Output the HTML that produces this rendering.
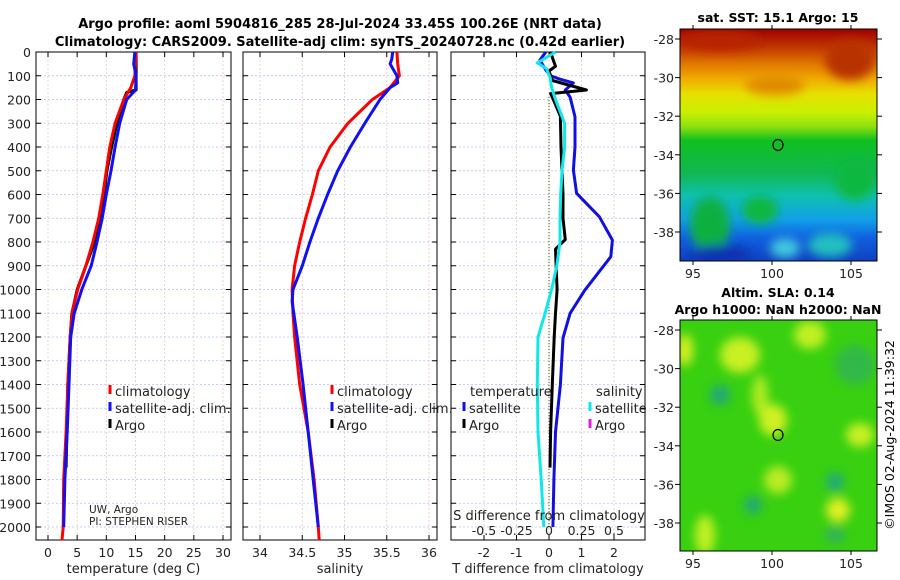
<!DOCTYPE html>
<html><head><meta charset="utf-8"><style>
html,body{margin:0;padding:0;background:#fff;}
svg{display:block;font-family:"DejaVu Sans","Liberation Sans",sans-serif;}
</style></head><body>
<svg id="fig" width="900" height="580" viewBox="0 0 900 580" xmlns="http://www.w3.org/2000/svg">
<defs>
<linearGradient id="sstg" x1="0" y1="0" x2="0" y2="1">
<stop offset="0" stop-color="#a00000"/><stop offset="0.08" stop-color="#c03800"/>
<stop offset="0.15" stop-color="#e07800"/><stop offset="0.21" stop-color="#f0a800"/>
<stop offset="0.28" stop-color="#e8e000"/><stop offset="0.36" stop-color="#c8f000"/>
<stop offset="0.42" stop-color="#90e010"/><stop offset="0.48" stop-color="#10c020"/>
<stop offset="0.62" stop-color="#10b850"/><stop offset="0.72" stop-color="#10c0b0"/>
<stop offset="0.82" stop-color="#10a0e8"/><stop offset="0.9" stop-color="#1060e0"/>
<stop offset="1" stop-color="#1040c0"/></linearGradient>
<filter id="bl" x="-50%" y="-50%" width="200%" height="200%"><feGaussianBlur stdDeviation="5"/></filter>
<clipPath id="c1"><rect x="680" y="29" width="197" height="232"/></clipPath>
<clipPath id="c2"><rect x="680" y="320" width="197" height="231"/></clipPath>
</defs>
<g id="titles">
<text x="340" y="28" text-anchor="middle" font-size="13" font-weight="bold">Argo profile: aoml 5904816_285 28-Jul-2024 33.45S 100.26E (NRT data)</text>
<text x="340" y="46" text-anchor="middle" font-size="13" font-weight="bold">Climatology: CARS2009. Satellite-adj clim: synTS_20240728.nc (0.42d earlier)</text>
</g>
<g id="maps">
<g clip-path="url(#c1)">
<rect x="680" y="29" width="197" height="232" fill="url(#sstg)"/>
<g filter="url(#bl)">
<ellipse cx="720" cy="40" rx="40" ry="10" fill="#b82000"/>
<ellipse cx="850" cy="60" rx="25" ry="20" fill="#b83000"/>
<ellipse cx="775" cy="85" rx="30" ry="10" fill="#e08a00"/>
<ellipse cx="710" cy="225" rx="20" ry="28" fill="#10b040"/>
<ellipse cx="760" cy="210" rx="18" ry="14" fill="#10b840"/>
<ellipse cx="855" cy="180" rx="20" ry="20" fill="#10b840"/>
<ellipse cx="720" cy="255" rx="30" ry="10" fill="#0a30b0"/>
<ellipse cx="830" cy="245" rx="22" ry="12" fill="#20c0c0"/>
<ellipse cx="785" cy="248" rx="15" ry="10" fill="#40c8e0"/>
</g></g>
<rect x="680" y="29" width="197" height="232" fill="none" stroke="#000" stroke-width="1"/>
<ellipse cx="778" cy="145" rx="5" ry="5.5" fill="none" stroke="#000" stroke-width="1.2"/>
<g clip-path="url(#c2)">
<rect x="680" y="320" width="197" height="231" fill="#38d010"/>
<g filter="url(#bl)">
<ellipse cx="740" cy="355" rx="20" ry="18" fill="#c8f020"/>
<ellipse cx="760" cy="395" rx="8" ry="20" fill="#b0ec20"/>
<ellipse cx="810" cy="335" rx="16" ry="14" fill="#c0f020"/>
<ellipse cx="685" cy="350" rx="8" ry="16" fill="#d8f020"/>
<ellipse cx="773" cy="420" rx="14" ry="16" fill="#d0f020"/>
<ellipse cx="778" cy="480" rx="14" ry="14" fill="#b8ec20"/>
<ellipse cx="860" cy="435" rx="14" ry="12" fill="#c8f020"/>
<ellipse cx="838" cy="510" rx="12" ry="12" fill="#e0f020"/>
<ellipse cx="705" cy="535" rx="10" ry="20" fill="#c0f020"/>
<ellipse cx="720" cy="395" rx="10" ry="10" fill="#20a878"/>
<ellipse cx="753" cy="505" rx="9" ry="9" fill="#20a878"/>
<ellipse cx="835" cy="482" rx="9" ry="9" fill="#20a880"/>
<ellipse cx="835" cy="535" rx="10" ry="8" fill="#30b060"/>
<ellipse cx="855" cy="365" rx="20" ry="20" fill="#30b848"/>
</g></g>
<rect x="680" y="320" width="197" height="231" fill="none" stroke="#000" stroke-width="1"/>
<ellipse cx="778" cy="435" rx="5" ry="5.5" fill="none" stroke="#000" stroke-width="1.2"/>
<text x="778" y="22" text-anchor="middle" font-size="12.5" font-weight="bold">sat. SST: 15.1 Argo: 15</text>
<text x="778" y="297" text-anchor="middle" font-size="12.5" font-weight="bold">Altim. SLA: 0.14</text>
<text x="778" y="314" text-anchor="middle" font-size="12.5" font-weight="bold">Argo h1000: NaN h2000: NaN</text>
<text transform="translate(894,435) rotate(-90)" text-anchor="middle" font-size="12.5">©IMOS 02-Aug-2024 11:39:32</text>
</g>
<g id="plots"></g>
</svg>
<script>
// ---- data ----
const tClimDepth=[0,100,150,200,300,400,500,600,700,800,900,1000,1100,1200,1400,1600,1800,2000,2055];
const tClim=[15.1,14.9,14.2,13,11.5,10.6,10,9.4,8.7,7.7,6.5,5.1,4.1,3.8,3.4,3.1,2.7,2.6,2.4];
const tSatDepth=[0,50,100,160,200,300,400,500,600,700,800,900,1000,1100,1200,1400,1600,1800,2000];
const tSat=[14.9,14.7,15.1,15,13.5,12.3,11.5,10.8,10,9.3,8.4,7.4,5.8,4.5,3.9,3.6,3.3,2.9,2.7];
const tArgoDepth=[0,100,160,170,200,300,400,500,600,700,800,900,1000,1100,1200,1400,1750];
const tArgo=[15.1,15.1,15.1,13.5,13,11.8,10.9,10.1,9.6,9.1,8,6.5,5,4.1,3.8,3.4,3.1];
const sClimDepth=[0,50,100,150,200,300,400,500,600,700,800,900,1000,1100,1200,1400,1600,1800,2000,2055];
const sClim=[35.62,35.63,35.65,35.54,35.33,35.04,34.83,34.69,34.62,34.54,34.47,34.41,34.38,34.39,34.41,34.47,34.57,34.64,34.69,34.7];
const sSatDepth=[0,30,50,100,130,150,200,300,400,500,600,700,800,900,1000,1050,1100,1200,1400,1600,1800,2000];
const sSat=[35.57,35.56,35.54,35.62,35.63,35.54,35.42,35.24,35.07,34.92,34.8,34.69,34.59,34.5,34.39,34.38,34.4,34.44,34.51,34.57,34.63,34.69];
const dtSatDepth=[0,34,76,100,115,130,160,190,273,400,497,595,694,792,862,1003,1100,1204,1400,1600,1800,2000];
const dtSat=[-0.1,-0.28,-0.1,0.05,0.35,0.75,0.5,0.65,0.8,0.8,0.75,0.85,1.55,1.95,1.9,1.1,0.65,0.43,0.35,0.2,0.15,0.12];
const dtArgoDepth=[0,30,60,80,120,160,175,190,270,400,500,600,700,790,830,900,1000,1100,1200,1400,1600,1750];
const dtArgo=[0.05,0.12,0.2,0,0.1,1.15,0.05,0.1,0.35,0.37,0.4,0.43,0.43,0.5,0.2,0.22,0.25,0.2,0.16,0.1,0.05,0.03];
const dsSatDepth=[0,46,70,110,150,200,300,400,500,600,700,800,900,1000,1100,1200,1400,1600,1800,2000];
const dsSat=[0.05,-0.09,-0.02,0.01,0.02,0.05,0.12,0.12,0.1,0.09,0.085,0.085,0.06,0.02,-0.03,-0.085,-0.09,-0.085,-0.06,-0.04];
const depthTicks=[0,100,200,300,400,500,600,700,800,900,1000,1100,1200,1300,1400,1500,1600,1700,1800,1900,2000];
const tTicks=[0,5,10,15,20,25,30];
const sTicks=[34,34.5,35,35.5,36];
const dtTicks=[-2,-1,0,1,2];
const dsTicks=[-0.5,-0.25,0,0.25,0.5];
const latTicks=[-28,-30,-32,-34,-36,-38];
const lonTicks=[95,100,105];
// ---- layout ----
const NS="http://www.w3.org/2000/svg";
const root=document.getElementById('plots');
const Y=d=>52+d*0.2375;
const xT=v=>48+v*5.833;
const xS=v=>260+(v-34)*84.5;
const xDT=v=>549+v*32.5;
const xDS=v=>549+v*130;
const yTop=52,yBot=540;
function el(tag,attrs,parent){const e=document.createElementNS(NS,tag);for(const k in attrs)e.setAttribute(k,attrs[k]);(parent||root).appendChild(e);return e;}
function txt(s,attrs,parent){const e=el('text',attrs,parent);e.textContent=s;return e;}
function panel(name,x0,x1,ticks,fx,labels,title){
  const g=el('g',{});
  
  
  depthTicks.forEach(d=>{const l=el('line',{x1:x0,x2:x1,y1:Y(d),y2:Y(d),stroke:'#b8c0ec','stroke-width':0.8,'stroke-dasharray':'2,2'},g);
    
    
    el('line',{x1:x0,x2:x0+5,y1:Y(d),y2:Y(d),stroke:'#000'},g);el('line',{x1:x1-5,x2:x1,y1:Y(d),y2:Y(d),stroke:'#000'},g);});
  ticks.forEach((t,i)=>{const x=fx(t);const l=el('line',{x1:x,x2:x,y1:yTop,y2:yBot,stroke:'#e8c8c0','stroke-width':0.8,'stroke-dasharray':'2,2'},g);
    
    
    el('line',{x1:x,x2:x,y1:yBot-5,y2:yBot,stroke:'#000'},g);el('line',{x1:x,x2:x,y1:yTop,y2:yTop+5,stroke:'#000'},g);
    if(labels){const t2=txt(labels[i],{x:x,y:557,'text-anchor':'middle','font-size':12.5,fill:'#222'},g);
      
      }});
  el('rect',{x:x0,y:yTop,width:x1-x0,height:yBot-yTop,fill:'none',stroke:'#000','stroke-width':1},g);
  const tt=txt(title,{x:(x0+x1)/2,y:573,'text-anchor':'middle','font-size':13,fill:'#222'},g);
  
  
  return g;
}
function series(name,depths,vals,fx,color,w){
  const p=el('path',{d:depths.map((d,i)=>(i?'L':'M')+fx(vals[i]).toFixed(1)+','+Y(d).toFixed(1)).join(''),fill:'none',stroke:color,'stroke-width':w||3,'stroke-linejoin':'round'});
  
  
}
function legendEntry(name,x,y,color,label){
  const g=el('g',{});
  
  
  el('line',{x1:x,x2:x,y1:y-11,y2:y-2,stroke:color,'stroke-width':3},g);
  txt(label,{x:x+5,y:y,'font-size':13,fill:'#222'},g);
}
// y labels
depthTicks.forEach(d=>{const t=txt(String(d),{x:31,y:Y(d)+5,'text-anchor':'end','font-size':12.5,fill:'#222'});
  
  });
panel('temperature-panel',36,231,tTicks,xT,tTicks.map(String),'temperature (deg C)');
panel('salinity-panel',243,437,sTicks,xS,sTicks.map(String),'salinity');
panel('difference-panel',451,645,dtTicks,xDT,dtTicks.map(String),'T difference from climatology');
// map axes ticks
[[39,29,261],[330,320,551]].forEach(([y28,t0,b0])=>{
  latTicks.forEach(l=>{const y=y28+(-28-l)*19.3;el('line',{x1:877,x2:882,y1:y,y2:y,stroke:'#000'});el('line',{x1:675,x2:680,y1:y,y2:y,stroke:'#000'});
    const t=txt(String(l),{x:674,y:y+5,'text-anchor':'end','font-size':12.5,fill:'#222'});
    
    });
  lonTicks.forEach(l=>{const x=693+(l-95)*15.8;el('line',{x1:x,x2:x,y1:b0,y2:b0+4,stroke:'#000'});el('line',{x1:x,x2:x,y1:t0-4,y2:t0,stroke:'#000'});
    const t=txt(String(l),{x:x,y:b0+17,'text-anchor':'middle','font-size':12.5,fill:'#222'});
    
    });
});
// dotted zero line
const z=el('line',{x1:xDT(0),x2:xDT(0),y1:Y(190),y2:Y(2000),stroke:'#334400','stroke-width':1,'stroke-dasharray':'1,2'});


// series
series('temp-argo',tArgoDepth,tArgo,xT,'#000');
series('temp-climatology',tClimDepth,tClim,xT,'#ff0000');
series('temp-satellite',tSatDepth,tSat,xT,'#1010f0');
series('sal-climatology',sClimDepth,sClim,xS,'#ff0000');
series('sal-satellite',sSatDepth,sSat,xS,'#1010f0');
series('dT-satellite',dtSatDepth,dtSat,xDT,'#1010e0');
series('dT-argo',dtArgoDepth,dtArgo,xDT,'#000');
series('dS-satellite',dsSatDepth,dsSat,xDS,'#10e8e8');
// legends
legendEntry('legend-climatology',110,396,'#ff0000','climatology');
legendEntry('legend-satellite-adj',110,413,'#1010f0','satellite-adj. clim.');
legendEntry('legend-argo',110,430,'#000','Argo');
legendEntry('legend-climatology-s',332,396,'#ff0000','climatology');
legendEntry('legend-satellite-adj-s',332,413,'#1010f0','satellite-adj. clim.');
legendEntry('legend-argo-s',332,430,'#000','Argo');
const lt=txt('temperature',{x:470,y:396,'font-size':13,fill:'#222'});


const ls=txt('salinity',{x:596,y:396,'font-size':13,fill:'#222'});


legendEntry('legend-dT-satellite',464,413,'#1010e0','satellite');
legendEntry('legend-dT-argo',464,430,'#000','Argo');
legendEntry('legend-dS-satellite',590,413,'#10e8e8','satellite');
legendEntry('legend-dS-argo',590,430,'#e020e0','Argo');
// S difference axis
const sd=txt('S difference from climatology',{x:549,y:520,'text-anchor':'middle','font-size':13,fill:'#222'});


dsTicks.forEach(v=>{const t=txt(String(v),{x:xDS(v),y:535,'text-anchor':'middle','font-size':12.5,fill:'#222'});
  
  });
// PI text
const pi1=txt('UW, Argo',{x:89,y:513,'font-size':10.5,fill:'#222'});


const pi2=txt('PI: STEPHEN RISER',{x:89,y:525,'font-size':10.5,fill:'#222'});


</script>
</body></html>
